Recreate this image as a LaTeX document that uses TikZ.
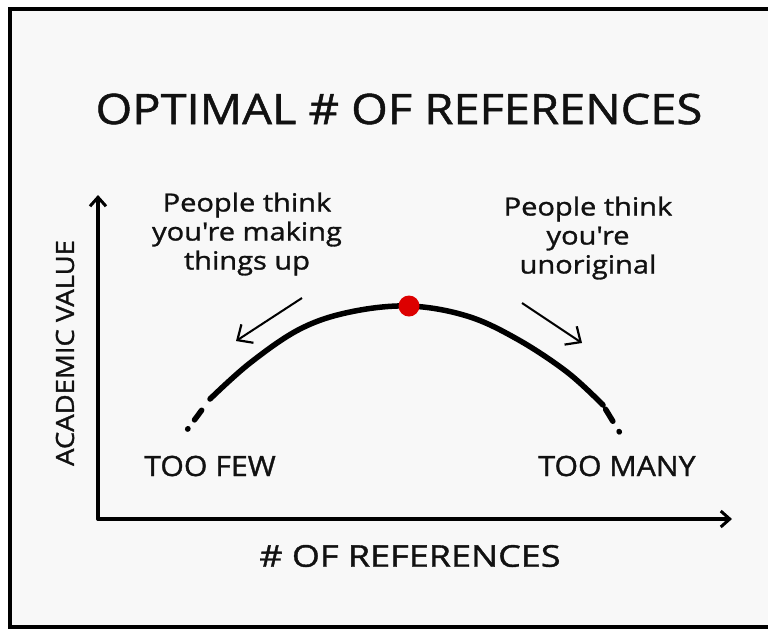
\documentclass[tikz,border=0pt]{standalone}
\usepackage{fontspec}
\setmainfont{Open Sans}
\newfontfamily\ftitle[FakeStretch=1.12, FakeBold=1.2]{Open Sans}
\newfontfamily\fxlab[FakeStretch=1.2, FakeBold=1.2]{Open Sans}
\newfontfamily\fylab[FakeStretch=1.1, FakeBold=1.2]{Open Sans}
\newfontfamily\fend[FakeStretch=1.08, FakeBold=1.2]{Open Sans}
\newfontfamily\fnote[FakeStretch=1.16, FakeBold=1.2]{Open Sans}
\usetikzlibrary{arrows.meta}
\definecolor{bg}{HTML}{F8F8F8}
\definecolor{dotred}{HTML}{DD0000}
\definecolor{ink}{HTML}{111111}
\tikzset{
  frame/.style={line width=4pt, fill=bg},
  axis/.style={line width=3.5pt, line cap=round, -{Straight Barb[length=9pt,width=16pt,line width=3pt]}},
  curve/.style={line width=5.5pt},
  pointer/.style={line width=2pt, -{Straight Barb[length=12pt,width=22pt,line width=2.2pt]}},
  title/.style={text=ink, font=\ftitle\fontsize{42}{48}\selectfont},
  xlabel/.style={text=ink, font=\fxlab\fontsize{30}{34}\selectfont},
  ylabel/.style={text=ink, font=\fylab\fontsize{25}{30}\selectfont, rotate=90},
  endlabel/.style={text=ink, font=\fend\fontsize{28}{32}\selectfont},
  note/.style={text=ink, font=\fnote\fontsize{25}{29}\selectfont, align=center, inner sep=0pt},
}
\begin{document}
\begin{tikzpicture}[x=1pt,y=-1pt]
\useasboundingbox (0,0) rectangle (768,630);
\fill[white] (0,0) rectangle (768,630);
\draw[frame] (10,9) rectangle (800,627);

% axes
\coordinate (ytop) at (98,195);
\coordinate (orig) at (98,519);
\coordinate (xend) at (732,519);
\draw[axis] (orig) -- (ytop);
\draw[axis] (orig) -- (xend);

% texts
\node[title] (ttl) at (399,109) {OPTIMAL \# OF REFERENCES};
\node[xlabel] (xl) at (410,556) {\# OF REFERENCES};
\node[ylabel] (yl) at (65,353) {ACADEMIC VALUE};
\node[endlabel] (few) at (210,466) {TOO FEW};
\node[endlabel] (many) at (617,466) {TOO MANY};
\node[note] (nl) at (247,234) {People think\\you're making\\things up};
\node[note] (nr) at (588,238) {People think\\you're\\unoriginal};

% curve
\coordinate (ls) at (210,399);
\coordinate (rs) at (603,405);
\coordinate (le) at (187,430);
\coordinate (re) at (620,433);
\draw[curve] plot[smooth, tension=0.6] coordinates {(210,399) (250,363) (300,329) (350,312) (409,306) (467,316) (517,339) (567,372) (603,405)};
\draw[curve, dash pattern=on 0pt off 14pt on 12pt off 11pt on 0.5pt off 30pt, line cap=round] (ls) -- (le);
\draw[curve, dash pattern=on 0pt off 5pt on 14pt off 12pt on 0.5pt off 30pt, line cap=round] (rs) -- (re);

\node[circle, fill=dotred, minimum size=21pt, inner sep=0pt] (opt) at (409,306) {};

% pointers
\coordinate (pl1) at (302,298);
\coordinate (pl2) at (236,341);
\coordinate (pr1) at (522,303);
\coordinate (pr2) at (582,343);
\draw[pointer] (pl1) -- (pl2);
\draw[pointer] (pr1) -- (pr2);
\end{tikzpicture}
\end{document}
